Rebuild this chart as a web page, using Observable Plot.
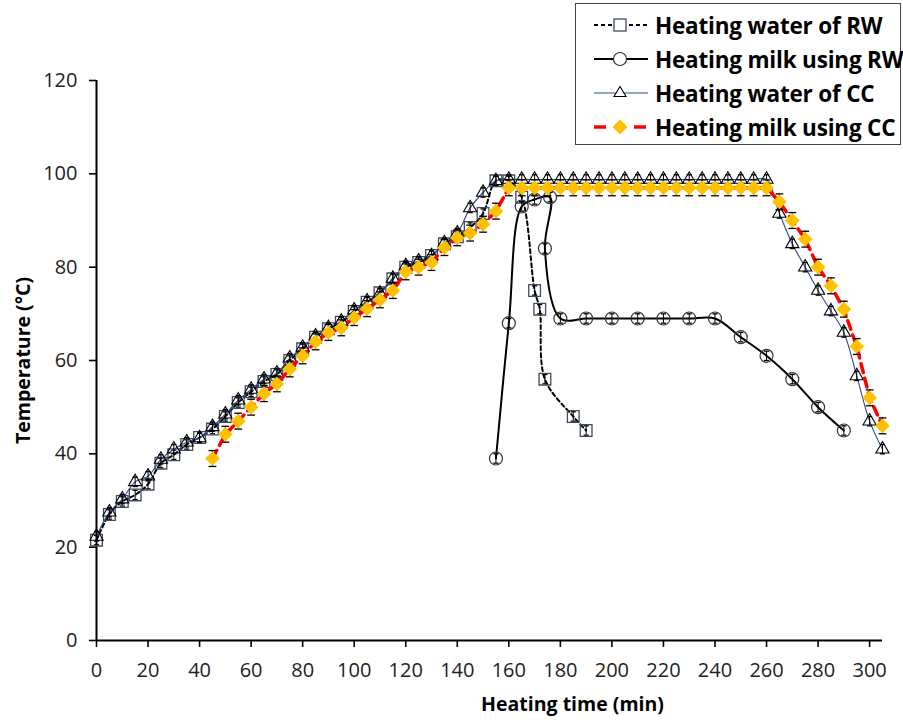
<!DOCTYPE html>
<html><head><meta charset="utf-8">
<script src="https://cdn.jsdelivr.net/npm/d3@7"></script>
<script src="https://cdn.jsdelivr.net/npm/@observablehq/plot@0.6"></script>
<style>
body{margin:0;background:#fff;}
#wrap{position:relative;width:903px;height:722px;font-family:"Open Sans", Lato, sans-serif;}
#legend{position:absolute;left:575px;top:3px;width:326px;height:142px;border:1px solid #444;box-sizing:border-box;background:#fff;}
.row{position:absolute;left:0;height:32px;display:flex;align-items:center;}
.row svg{margin-left:16px;display:block;}
.row span{font-weight:700;font-size:22.5px;margin-left:5px;color:#000;white-space:nowrap;letter-spacing:-0.2px;}
</style></head><body><div id="wrap"><div id="chart"></div><div id="legend"></div></div>
<script>
// ---- data ----
const seriesNames = ["Heating water of RW", "Heating milk using RW", "Heating water of CC", "Heating milk using CC"];
const xTicks = [0,20,40,60,80,100,120,140,160,180,200,220,240,260,280,300];
const yTicks = [0,20,40,60,80,100,120];

const timeWaterRW = [0,5,10,15,20,25,30,35,40,45,50,55,60,65,70,75,80,85,90,95,100,105,110,115,120,125,130,135,140,145,150,155,160,165,170,172,174,185,190];
const tempWaterRW = [21.5,27,29.8,31.2,33.5,38,39.8,42,43.5,45.3,48,51,53.3,55.5,57,60,62.5,65,66.8,68.2,70.5,72.5,74.5,77.5,80,81,82.5,85,86.5,88.5,91.5,98.5,98.5,95,75,71,56,48,45];

const timeMilkRW = [155,160,165,170,176,174,180,190,200,210,220,230,240,250,260,270,280,290];
const tempMilkRW = [39,68,93,94.5,95,84,69,69,69,69,69,69,69,65,61,56,50,45];

const timeWaterCC = [0,5,10,15,20,25,30,35,40,45,50,55,60,65,70,75,80,85,90,95,100,105,110,115,120,125,130,135,140,145,150,155,160,165,170,175,180,185,190,195,200,205,210,215,220,225,230,235,240,245,250,255,260,265,270,275,280,285,290,295,300,305];
const tempWaterCC = [22.3,27.5,30.3,34,35.2,38.8,41,42.5,43.4,45.8,48.5,51.5,53.8,56,57.3,60.5,62.8,65.2,67,68.4,70.8,72.7,74.4,77.6,80.3,81.3,82.4,85.2,87.3,92.7,96,98.5,98.8,98.8,98.8,98.8,98.8,98.8,98.8,98.8,98.8,98.8,98.8,98.8,98.8,98.8,98.8,98.8,98.8,98.8,98.8,98.8,98.8,91.5,85,80,75,70.6,66,56.7,47,41];

const timeMilkCC = [45,50,55,60,65,70,75,80,85,90,95,100,105,110,115,120,125,130,135,140,145,150,155,160,165,170,175,180,185,190,195,200,205,210,215,220,225,230,235,240,245,250,255,260,265,270,275,280,285,290,295,300,305];
const tempMilkCC = [39,44.2,47,50,52.9,55,58.2,61,64,66,67,69.2,71.1,73,75,79,80,81,84.2,86.3,87.3,89.2,92,97,97,97,97,97,97,97,97,97,97,97,97,97,97,97,97,97,97,97,97,97,94,90,86,80,76,71,63,52,46];

// error bar half-widths (approximate)
const errWaterRW = 1.0, errMilkRW = 1.0, errWaterCC = 1.0, errMilkCC = 1.7;

// ---- build tables ----
const zip = (ts, vs) => ts.map((t, i) => ({t, v: vs[i]}));
const wRW = zip(timeWaterRW, tempWaterRW);
const mRW = zip(timeMilkRW, tempMilkRW);
const wCC = zip(timeWaterCC, tempWaterCC);
const mCC = zip(timeMilkCC, tempMilkCC);

function errMarks(data, e, stroke, cap = 1) {
  return [
    Plot.ruleX(data, {x: "t", y1: d => d.v - e, y2: d => d.v + e, stroke, strokeWidth: 1}),
    Plot.link(data, {x1: d => d.t - cap, x2: d => d.t + cap, y1: d => d.v - e, y2: d => d.v - e, stroke, strokeWidth: 1.3}),
    Plot.link(data, {x1: d => d.t - cap, x2: d => d.t + cap, y1: d => d.v + e, y2: d => d.v + e, stroke, strokeWidth: 1.3})
  ];
}

const chart = Plot.plot({
  width: 903, height: 722,
  marginLeft: 96, marginRight: 21, marginTop: 80, marginBottom: 82,
  style: {fontFamily: "'Open Sans', Lato, sans-serif", fontSize: "20px", color: "#222", background: "#fff"},
  x: {domain: [0, 305]},
  y: {domain: [0, 120]},
  marks: [
    Plot.axisX({ticks: xTicks, tickSize: 7, tickPadding: 15, label: null, fontSize: 20, strokeWidth: 1.6, stroke: "#000"}),
    Plot.axisY({ticks: yTicks, tickSize: 7, tickPadding: 12, label: null, fontSize: 20, strokeWidth: 1.6, stroke: "#000"}),
    Plot.ruleY([0], {stroke: "#000", strokeWidth: 2}),
    Plot.ruleX([0], {stroke: "#000", strokeWidth: 2}),
    // RW water
    Plot.line(wRW, {x: "t", y: "v", stroke: "#000", strokeWidth: 2, strokeDasharray: "4,3", curve: "catmull-rom"}),
    ...errMarks(wRW, errWaterRW, "#000"),
    Plot.dot(wRW, {x: "t", y: "v", symbol: "square", r: 6.6, stroke: "#3E4B63", strokeWidth: 1.3, fill: "none"}),
    // RW milk
    Plot.line(mRW, {x: "t", y: "v", stroke: "#000", strokeWidth: 2, curve: "catmull-rom"}),
    ...errMarks(mRW, errMilkRW, "#000"),
    Plot.dot(mRW, {x: "t", y: "v", symbol: "circle", r: 6.5, stroke: "#333", strokeWidth: 1.2, fill: "none"}),
    // CC water
    Plot.line(wCC, {x: "t", y: "v", stroke: "#2E4A8A", strokeWidth: 1.1, curve: "catmull-rom"}),
    ...errMarks(wCC, errWaterCC, "#000"),
    Plot.dot(wCC, {x: "t", y: "v", symbol: "triangle", r: 4.9, stroke: "#000", strokeWidth: 1.1, fill: "none"}),
    // CC milk
    Plot.line(mCC, {x: "t", y: "v", stroke: "#FF0000", strokeWidth: 3.5, strokeDasharray: "9,6"}),
    ...errMarks(mCC, errMilkCC, "#000", 1.5),
    Plot.dot(mCC, {x: "t", y: "v", symbol: "diamond2", r: 6.6, fill: "#FFC000", stroke: "none"}),
    // axis titles
    Plot.text(["Temperature (°C)"], {frameAnchor: "left", textAnchor: "middle", dx: -73, rotate: -90, fontWeight: "bold", fontSize: 19.5, fill: "#000"}),
    Plot.text(["Heating time (min)"], {frameAnchor: "bottom", textAnchor: "middle", dx: 83, dy: 70, fontWeight: "bold", fontSize: 19.5, fill: "#000"})
  ]
});
document.getElementById("chart").appendChild(chart);

// ---- legend ----
const legend = document.getElementById("legend");
const rowsY = [5, 39, 73, 107];
const sw = [
  `<line x1="2" y1="16" x2="56" y2="16" stroke="#000" stroke-width="2" stroke-dasharray="4,3"/><rect x="22" y="10" width="12" height="12" fill="#fff" stroke="#3E4B63" stroke-width="1.3"/>`,
  `<line x1="2" y1="16" x2="56" y2="16" stroke="#000" stroke-width="2"/><circle cx="28" cy="16" r="6.5" fill="#fff" stroke="#333" stroke-width="1.2"/>`,
  `<line x1="2" y1="16" x2="56" y2="16" stroke="#2E4A8A" stroke-width="1.1"/><path d="M28,9.5 L34,19.5 L22,19.5 Z" fill="#fff" stroke="#000" stroke-width="1.1"/>`,
  `<line x1="2" y1="16" x2="14" y2="16" stroke="#FF0000" stroke-width="3.5"/><line x1="42" y1="16" x2="54" y2="16" stroke="#FF0000" stroke-width="3.5"/><path d="M28,8.5 L35.5,16 L28,23.5 L20.5,16 Z" fill="#FFC000"/>`
];
seriesNames.forEach((name, i) => {
  const row = document.createElement("div");
  row.className = "row";
  row.style.top = rowsY[i] + "px";
  row.innerHTML = `<svg width="58" height="32">${sw[i]}</svg><span>${name}</span>`;
  legend.appendChild(row);
});
</script>
</body></html>
